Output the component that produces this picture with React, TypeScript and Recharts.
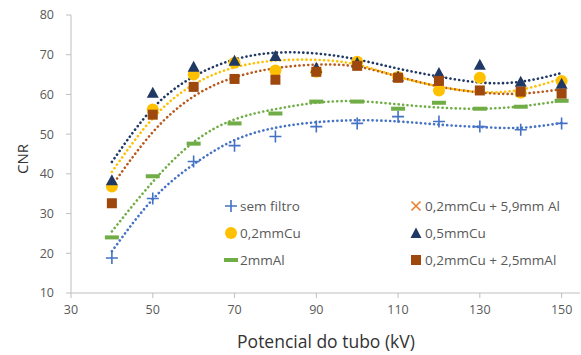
import React from "react";
import {
  ComposedChart,
  Scatter,
  Line,
  XAxis,
  YAxis,
  Label,
} from "recharts";

// tube potential (kV)
const kv = [40, 50, 60, 70, 80, 90, 100, 110, 120, 130, 140, 150];

// measured CNR per filter
const semFiltro = [18.8, 33.8, 43.1, 47.1, 49.4, 51.9, 52.7, 54.4, 53.2, 51.9, 51.1, 52.7];
const cu02 = [36.8, 56.2, 65.0, 68.0, 66.0, 65.7, 68.2, 64.4, 61.0, 64.2, 60.4, 63.4];
const al2 = [24.0, 39.4, 47.6, 52.7, 55.2, 58.2, 58.2, 56.4, 57.9, 56.4, 56.9, 58.4];
const cu05 = [38.4, 60.4, 67.0, 68.5, 69.7, 66.7, 68.0, 64.5, 65.4, 67.5, 63.2, 62.7];
const cu02al25 = [32.6, 54.9, 61.9, 63.9, 63.7, 65.7, 67.2, 64.2, 63.4, 61.0, 60.7, 60.2];
const cu02al59: number[] = []; // no visible points in the reference

// dotted trend lines at each kV
const semFiltroTrend = [20.5, 33.6, 42.4, 48.5, 51.6, 53.0, 53.5, 53.2, 52.4, 51.8, 51.6, 52.8];
const cu02Trend = [40.5, 54.0, 62.5, 66.8, 68.5, 68.7, 67.5, 64.5, 62.0, 60.6, 61.2, 64.0];
const al2Trend = [25.5, 38.0, 48.0, 53.7, 56.3, 57.9, 58.3, 57.5, 56.7, 56.4, 57.0, 58.4];
const cu05Trend = [43.0, 56.5, 64.5, 68.8, 70.5, 70.3, 68.8, 66.5, 64.5, 63.0, 63.2, 65.4];
const cu02al25Trend = [37.0, 50.5, 59.5, 64.3, 66.6, 67.5, 67.0, 64.5, 62.0, 60.5, 60.2, 61.3];

const xTicks = [30, 50, 70, 90, 110, 130, 150];
const yTicks = [10, 20, 30, 40, 50, 60, 70, 80];

const pts = (ys: number[]) => ys.map((y, i) => ({ x: kv[i], y }));

const BLUE = "#4472C4";
const YELLOW = "#FFC000";
const GREEN = "#70AD47";
const NAVY = "#203864";
const BROWN = "#9E480E";
const BROWN_LINE = "#B85A1E";
const ORANGE = "#ED7D31";
const FONT = "'Open Sans', sans-serif";

const plusShape = (p: any) => (
  <path
    d={`M${p.cx - 6},${p.cy}H${p.cx + 6}M${p.cx},${p.cy - 6}V${p.cy + 6}`}
    stroke={BLUE}
    strokeWidth={1.6}
    fill="none"
  />
);
const circleShape = (p: any) => <circle cx={p.cx} cy={p.cy} r={6} fill={YELLOW} />;
const dashShape = (p: any) => (
  <rect x={p.cx - 7} y={p.cy - 2} width={14} height={4} fill={GREEN} />
);
const triShape = (p: any) => (
  <path
    d={`M${p.cx},${p.cy - 6}L${p.cx + 6},${p.cy + 5}L${p.cx - 6},${p.cy + 5}Z`}
    fill={NAVY}
  />
);
const squareShape = (p: any) => (
  <rect x={p.cx - 5} y={p.cy - 5} width={10} height={10} fill={BROWN} />
);

const legendItems = [
  { name: "sem filtro", icon: <path d="M1,7H13M7,1V13" stroke={BLUE} strokeWidth={1.6} /> },
  {
    name: "0,2mmCu + 5,9mm Al",
    icon: <path d="M2.5,2.5L11.5,11.5M11.5,2.5L2.5,11.5" stroke={ORANGE} strokeWidth={1.6} />,
  },
  { name: "0,2mmCu", icon: <circle cx={7} cy={7} r={6} fill={YELLOW} /> },
  { name: "0,5mmCu", icon: <path d="M7,1.5L12.5,12L1.5,12Z" fill={NAVY} /> },
  { name: "2mmAl", icon: <rect x={0} y={5} width={14} height={4} fill={GREEN} /> },
  { name: "0,2mmCu + 2,5mmAl", icon: <rect x={2} y={2} width={10} height={10} fill={BROWN} /> },
];

const trendProps = {
  type: "natural" as const,
  dataKey: "y",
  dot: false,
  activeDot: false,
  strokeWidth: 2.6,
  strokeDasharray: "0.1 4.3",
  strokeLinecap: "round" as const,
  isAnimationActive: false,
  legendType: "none" as const,
};

export default function App() {
  return (
    <div style={{ position: "absolute", left: 0, top: 0, width: 581, height: 355, background: "#fff" }}>
      <ComposedChart width={581} height={355} margin={{ top: 15, right: 1, bottom: 0, left: 0 }}>
        <XAxis
          type="number"
          dataKey="x"
          domain={[30, 154.5]}
          ticks={xTicks}
          allowDataOverflow
          stroke="#BFBFBF"
          tickSize={5}
          tickMargin={7}
          height={62}
          tick={{ fill: "#595959", fontSize: 12.5, fontFamily: FONT }}
        >
          <Label
            content={() => (
              <text
                x={326}
                y={348}
                textAnchor="middle"
                fill="#333"
                fontSize={17.5}
                fontFamily={FONT}
              >
                Potencial do tubo (kV)
              </text>
            )}
          />
        </XAxis>
        <YAxis
          type="number"
          dataKey="y"
          domain={[10, 80]}
          ticks={yTicks}
          allowDataOverflow
          width={71}
          stroke="#BFBFBF"
          tickSize={5}
          tickMargin={12}
          tick={{ fill: "#595959", fontSize: 12.5, fontFamily: FONT }}
        >
          <Label
            content={() => (
              <text
                x={22}
                y={159}
                transform="rotate(-90 22 159)"
                textAnchor="middle"
                dominantBaseline="central"
                fill="#333"
                fontSize={15}
                fontFamily={FONT}
              >
                CNR
              </text>
            )}
          />
        </YAxis>

        <Scatter name="sem filtro" data={pts(semFiltro)} shape={plusShape} isAnimationActive={false} />
        <Scatter name="0,2mmCu" data={pts(cu02)} shape={circleShape} isAnimationActive={false} />
        <Scatter name="2mmAl" data={pts(al2)} shape={dashShape} isAnimationActive={false} />
        <Scatter name="0,2mmCu + 5,9mm Al" data={pts(cu02al59)} isAnimationActive={false} />
        <Scatter name="0,5mmCu" data={pts(cu05)} shape={triShape} isAnimationActive={false} />
        <Scatter name="0,2mmCu + 2,5mmAl" data={pts(cu02al25)} shape={squareShape} isAnimationActive={false} />

        <Line {...trendProps} data={pts(semFiltroTrend)} stroke={BLUE} />
        <Line {...trendProps} data={pts(al2Trend)} stroke={GREEN} />
        <Line {...trendProps} data={pts(cu02al25Trend)} stroke={BROWN_LINE} />
        <Line {...trendProps} data={pts(cu02Trend)} stroke={YELLOW} />
        <Line {...trendProps} data={pts(cu05Trend)} stroke={NAVY} />
      </ComposedChart>

      <div
        style={{
          position: "absolute",
          left: 224,
          top: 193,
          display: "grid",
          gridTemplateColumns: "185px 170px",
          gridAutoRows: "26.7px",
          fontFamily: FONT,
          fontSize: 13.5,
          color: "#595959",
        }}
      >
        {legendItems.map((it) => (
          <div key={it.name} style={{ display: "flex", alignItems: "center", whiteSpace: "nowrap" }}>
            <svg width={14} height={14} style={{ marginRight: 2, flex: "none" }}>
              {it.icon}
            </svg>
            <span>{it.name}</span>
          </div>
        ))}
      </div>
    </div>
  );
}
